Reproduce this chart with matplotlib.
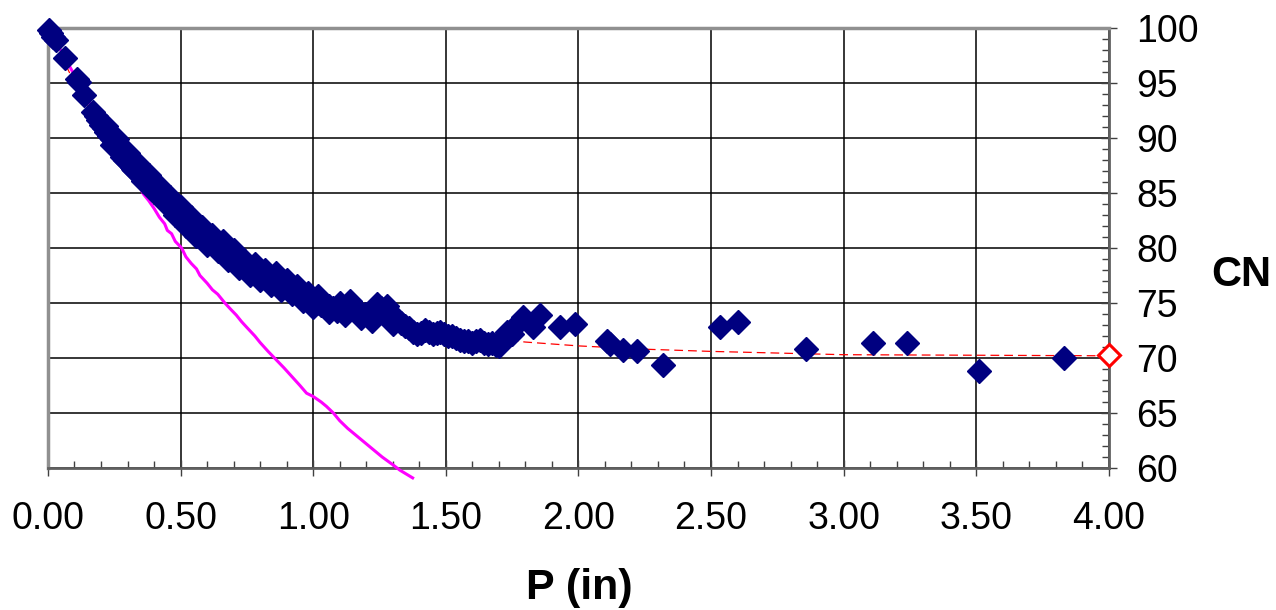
import matplotlib.pyplot as plt
from matplotlib.ticker import MultipleLocator, FormatStrFormatter

# observed CN vs rainfall P (dark diamonds)
p_obs = [0.005, 0.012, 0.020, 0.030, 0.064, 0.108, 0.118, 0.137, 0.170, 0.180,
         0.190, 0.200, 0.210, 0.220, 0.230, 0.240, 0.250, 0.262, 0.272, 0.282,
         0.292, 0.302, 0.315, 0.325, 0.338, 0.350, 0.362, 0.375, 0.388, 0.400,
         0.412, 0.425, 0.438, 0.450, 0.462, 0.475, 0.488, 0.500, 0.512, 0.525,
         0.538, 0.550, 0.562, 0.575, 0.588, 0.600, 0.612, 0.625, 0.638, 0.650,
         0.662, 0.675, 0.688, 0.700, 0.715, 0.730, 0.745, 0.760, 0.775, 0.790,
         0.805, 0.820, 0.835, 0.850, 0.865, 0.880, 0.895, 0.910, 0.925, 0.940,
         0.955, 0.970, 0.985, 1.000, 1.015, 1.030, 1.045, 1.060, 1.075, 1.090,
         1.105, 1.120, 1.135, 1.150, 1.165, 1.180, 1.195, 1.210, 1.225, 1.240,
         1.255, 1.270, 1.285, 1.300, 1.315, 1.330, 1.345, 1.360, 1.375, 1.390,
         1.405, 1.420, 1.435, 1.450, 1.465, 1.480, 1.495, 1.510, 1.525, 1.540,
         1.555, 1.570, 1.585, 1.600, 1.615, 1.630, 1.645, 1.660, 1.675, 1.690,
         1.700, 1.715, 1.730, 1.750, 1.765, 1.790, 1.830, 1.855, 1.930, 1.987,
         2.107, 2.120, 2.170, 2.220, 2.320, 2.533, 2.600, 2.860, 3.110, 3.240,
         3.510, 3.830]
cn_obs = [99.8, 99.5, 99.2, 98.9, 97.3, 95.4, 95.1, 93.9, 92.4, 92.0,
          91.6, 91.2, 90.9, 90.5, 90.2, 89.9, 89.5, 89.2, 88.8, 88.5,
          88.0, 87.8, 87.4, 87.1, 86.9, 86.5, 86.2, 85.9, 85.6, 85.3,
          85.0, 84.7, 84.4, 84.1, 83.8, 83.5, 83.2, 83.0, 82.7, 82.4,
          82.1, 81.9, 81.6, 81.3, 81.0, 80.8, 80.6, 80.4, 80.2, 80.0,
          79.9, 79.6, 79.4, 79.1, 78.8, 78.6, 78.2, 78.0, 77.9, 77.8,
          77.6, 77.4, 77.1, 77.2, 77.0, 76.8, 76.5, 76.4, 76.2, 76.0,
          75.8, 75.6, 75.3, 75.1, 75.0, 74.8, 74.9, 74.7, 74.5, 74.3,
          74.4, 74.6, 74.8, 74.6, 74.3, 74.1, 74.0, 73.9, 74.1, 74.4,
          74.5, 74.3, 74.0, 73.7, 73.5, 73.2, 72.9, 72.7, 72.4, 72.2,
          72.3, 72.5, 72.4, 72.2, 72.3, 72.4, 72.2, 72.0, 72.0, 71.8,
          71.6, 71.5, 71.5, 71.4, 71.5, 71.6, 71.4, 71.3, 71.4, 71.2,
          71.1, 71.8, 72.4, 72.2, 73.0, 73.7, 72.8, 73.9, 72.8, 73.1,
          71.5, 71.3, 70.7, 70.6, 69.4, 72.8, 73.3, 70.8, 71.4, 71.4,
          68.8, 70.0]

# more observed points on the upper and lower side of the dense band
p_obs_hi = [0.22, 0.26, 0.30, 0.34, 0.38, 0.42, 0.46, 0.50, 0.54, 0.58,
            0.62, 0.66, 0.70, 0.74, 0.78, 0.82, 0.86, 0.90, 0.94, 0.98,
            1.02, 1.10, 1.14, 1.24, 1.28]
cn_obs_hi = [91.1, 89.9, 88.6, 87.6, 86.6, 85.6, 84.6, 83.7, 82.8, 81.9,
             81.2, 80.6, 79.8, 78.9, 78.5, 78.0, 77.7, 77.1, 76.5, 75.9,
             75.6, 75.0, 75.2, 74.9, 74.7]
p_obs_lo = [0.24, 0.28, 0.32, 0.36, 0.40, 0.44, 0.48, 0.52, 0.56, 0.60,
            0.64, 0.68, 0.72, 0.76, 0.80, 0.84, 0.88, 0.92, 0.96, 1.00,
            1.06, 1.12, 1.18, 1.22, 1.30]
cn_obs_lo = [89.4, 88.3, 87.2, 86.1, 85.1, 84.1, 83.0, 82.0, 81.1, 80.3,
             79.7, 78.9, 78.2, 77.5, 77.1, 76.6, 76.2, 75.8, 75.2, 74.6,
             74.2, 73.9, 73.6, 73.4, 73.1]

# magenta curve
p_mag = [0.0, 0.05, 0.10, 0.15, 0.20, 0.25, 0.29, 0.32, 0.345, 0.36,
         0.38, 0.40, 0.42, 0.44, 0.45, 0.466, 0.48, 0.504, 0.52, 0.54,
         0.56, 0.573, 0.60, 0.62, 0.64, 0.667, 0.69, 0.71, 0.73, 0.749,
         0.78, 0.80, 0.83, 0.862, 0.89, 0.92, 0.95, 0.975, 1.00, 1.03,
         1.05, 1.076, 1.10, 1.13, 1.16, 1.20, 1.23, 1.26, 1.30, 1.327, 1.375]
cn_mag = [100.0, 97.9, 95.7, 93.5, 91.3, 89.2, 87.6, 86.3, 85.6, 84.9,
          84.3, 83.6, 82.8, 82.2, 81.6, 81.3, 80.6, 80.0, 79.2, 78.6,
          78.1, 77.5, 76.8, 76.2, 75.8, 75.0, 74.4, 73.9, 73.3, 72.8,
          72.0, 71.4, 70.6, 69.8, 69.1, 68.3, 67.5, 66.8, 66.5, 66.0,
          65.6, 65.0, 64.3, 63.6, 63.0, 62.2, 61.6, 61.0, 60.3, 59.8, 59.1]

# red dashed fitted curve
p_fit = [0.0, 0.1, 0.2, 0.3, 0.4, 0.5, 0.6, 0.7, 0.8, 0.9, 1.0, 1.2, 1.4,
         1.6, 1.8, 2.0, 2.25, 2.5, 2.75, 3.0, 3.5, 4.0]
cn_fit = [100.0, 95.0, 91.0, 87.6, 84.9, 82.6, 80.7, 79.0, 77.6, 76.4, 75.4,
          73.9, 72.8, 72.0, 71.45, 71.1, 70.8, 70.6, 70.45, 70.3, 70.25, 70.2]

# asymptotic CN point
p_inf = [4.0]
cn_inf = [70.25]

plt.rcParams['font.family'] = ['Liberation Sans', 'DejaVu Sans']

fig = plt.figure(figsize=(12.76, 6.10), dpi=100)
ax = fig.add_axes([0.0376, 0.2328, 0.8314, 0.7213])

ax.plot(p_mag, cn_mag, color='#ff00ff', lw=2.2, zorder=3, clip_on=False)
ax.plot(p_fit, cn_fit, color='red', lw=0.9, linestyle=(0, (7, 4)), zorder=3)
ax.plot(p_obs + p_obs_hi + p_obs_lo, cn_obs + cn_obs_hi + cn_obs_lo,
        linestyle='none', marker='D', markersize=12.5,
        color='#000080', markeredgewidth=1, zorder=4, clip_on=False)
ax.plot(p_inf, cn_inf, linestyle='none', marker='D', markersize=11.5,
        markerfacecolor='white', markeredgecolor='red', markeredgewidth=2.2,
        zorder=5, clip_on=False)

ax.set_xlim(0, 4)
ax.set_ylim(60, 100)

# osi
ax.xaxis.set_major_locator(MultipleLocator(0.5))
ax.xaxis.set_minor_locator(MultipleLocator(0.1))
ax.xaxis.set_major_formatter(FormatStrFormatter('%.2f'))
ax.yaxis.set_major_locator(MultipleLocator(5))
ax.yaxis.set_minor_locator(MultipleLocator(1))
ax.yaxis.tick_right()
ax.yaxis.set_label_position('right')

ax.tick_params(axis='both', which='major', direction='inout', length=12,
               width=1, color='#404040', labelsize=27)
ax.tick_params(axis='both', which='minor', direction='in', length=5,
               width=1, color='#404040')
ax.tick_params(axis='x', which='major', pad=18)
ax.tick_params(axis='y', which='major', pad=14)
ax.tick_params(axis='y', which='both', left=False, right=True)

for sp in ['left', 'top']:
    ax.spines[sp].set_color('#909090')
    ax.spines[sp].set_linewidth(2.5)
for sp in ['right', 'bottom']:
    ax.spines[sp].set_color('#606060')
    ax.spines[sp].set_linewidth(2)

ax.grid(True, which='major', color='black', lw=1.1)
ax.set_axisbelow(True)

ax.set_xlabel('P (in)', fontsize=31, fontweight='bold', va='center')
ax.xaxis.set_label_coords(0.501, -0.272)
ax.set_ylabel('CN', fontsize=30, fontweight='bold', rotation=0,
              va='center', ha='center')
ax.yaxis.set_label_coords(1.125, 0.439)

fig.savefig('out.png', dpi=100)
